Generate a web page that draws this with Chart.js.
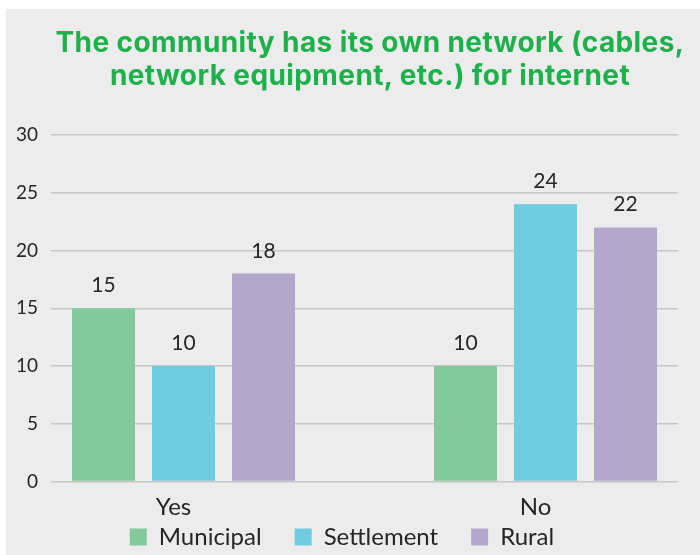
<!DOCTYPE html>
<html>
<head>
<meta charset="utf-8">
<script src="https://cdn.jsdelivr.net/npm/chart.js@4/dist/chart.umd.min.js"></script>
<style>
  html, body { margin: 0; padding: 0; background: #ffffff; }
  #frame { position: absolute; left: 6px; top: 9px; width: 694px; height: 546px; background: #ececec; }
  #title {
    position: absolute; left: 0; top: 17px; width: 728px; text-align: center;
    font-family: Inter, "DejaVu Sans", sans-serif; font-weight: 700; font-size: 28px;
    line-height: 33px; color: #1db14b; letter-spacing: 0.4px;
  }
  #chart { position: absolute; left: 0; top: 0; }
</style>
</head>
<body>
<div id="frame">
  <canvas id="chart" width="694" height="546"></canvas>
  <div id="title">The community has its own network (cables,<br>network equipment, etc.) for internet</div>
</div>
<script>
// Answer categories and respondent counts per community type
const categories = ['Yes', 'No'];
const municipal = [15, 10];
const settlement = [10, 24];
const rural = [18, 22];
const seriesNames = ['Municipal', 'Settlement', 'Rural'];
const seriesColors = ['#84c99a', '#6ecde0', '#b3a7cc'];
const yTicks = [0, 5, 10, 15, 20, 25, 30];

const textColor = '#262626';
const labelFont = 'Lato, "Liberation Sans", sans-serif';

const toPoints = vals => vals.map((v, i) => ({ x: i, y: v }));

// Value labels drawn above each bar
const barValueLabels = {
  id: 'barValueLabels',
  afterDatasetsDraw(chart) {
    const ctx = chart.ctx;
    ctx.save();
    ctx.font = '21px ' + labelFont;
    ctx.fillStyle = textColor;
    ctx.textAlign = 'center';
    ctx.textBaseline = 'alphabetic';
    chart.data.datasets.forEach((ds, di) => {
      const meta = chart.getDatasetMeta(di);
      meta.data.forEach((bar, i) => {
        ctx.fillText(String(ds.data[i].y), bar.x, bar.y - 16);
      });
    });
    ctx.restore();
  }
};

// Let the legend row sit closer to the category labels than its item spacing would allow
const legendPlacement = {
  id: 'legendPlacement',
  afterLayout(chart) {
    const lg = chart.legend;
    if (!lg) return;
    lg.top = chart.chartArea.bottom + 10.5;
    lg.bottom = chart.height;
    lg.height = lg.bottom - lg.top;
  }
};

new Chart(document.getElementById('chart'), {
  type: 'bar',
  data: {
    datasets: [
      { label: seriesNames[0], data: toPoints(municipal), backgroundColor: seriesColors[0] },
      { label: seriesNames[1], data: toPoints(settlement), backgroundColor: seriesColors[1] },
      { label: seriesNames[2], data: toPoints(rural), backgroundColor: seriesColors[2] }
    ]
  },
  options: {
    responsive: false,
    animation: false,
    devicePixelRatio: 1,
    categoryPercentage: 0.663,
    barPercentage: 0.7875,
    layout: { padding: { top: 126, right: 22, bottom: 0, left: 0 } },
    scales: {
      x: {
        type: 'linear',
        offset: false,
        bounds: 'data',
        min: -0.366,
        max: 1.366,
        grid: { display: false, offset: false },
        border: { display: false },
        afterBuildTicks: scale => { scale.ticks = categories.map((_, i) => ({ value: i })); },
        afterFit: scale => { scale.height = 40; },
        ticks: {
          padding: 3,
          labelOffset: -10,
          color: textColor,
          font: { family: labelFont, size: 24 },
          callback: v => categories[v]
        }
      },
      y: {
        min: 0,
        max: 30,
        afterBuildTicks: scale => { scale.ticks = yTicks.map(v => ({ value: v })); },
        afterFit: scale => { scale.width = 45; },
        grid: { color: '#c6c6c6', lineWidth: 1.5, drawTicks: false },
        border: { display: false },
        ticks: {
          padding: 13,
          color: textColor,
          font: { family: labelFont, size: 19 }
        }
      }
    },
    plugins: {
      title: { display: false },
      tooltip: { enabled: false },
      legend: {
        position: 'bottom',
        maxHeight: 33.5,
        labels: {
          boxWidth: 17,
          boxHeight: 17,
          padding: 33,
          color: textColor,
          font: { family: labelFont, size: 24 }
        }
      }
    }
  },
  plugins: [barValueLabels, legendPlacement]
});
</script>
</body>
</html>
